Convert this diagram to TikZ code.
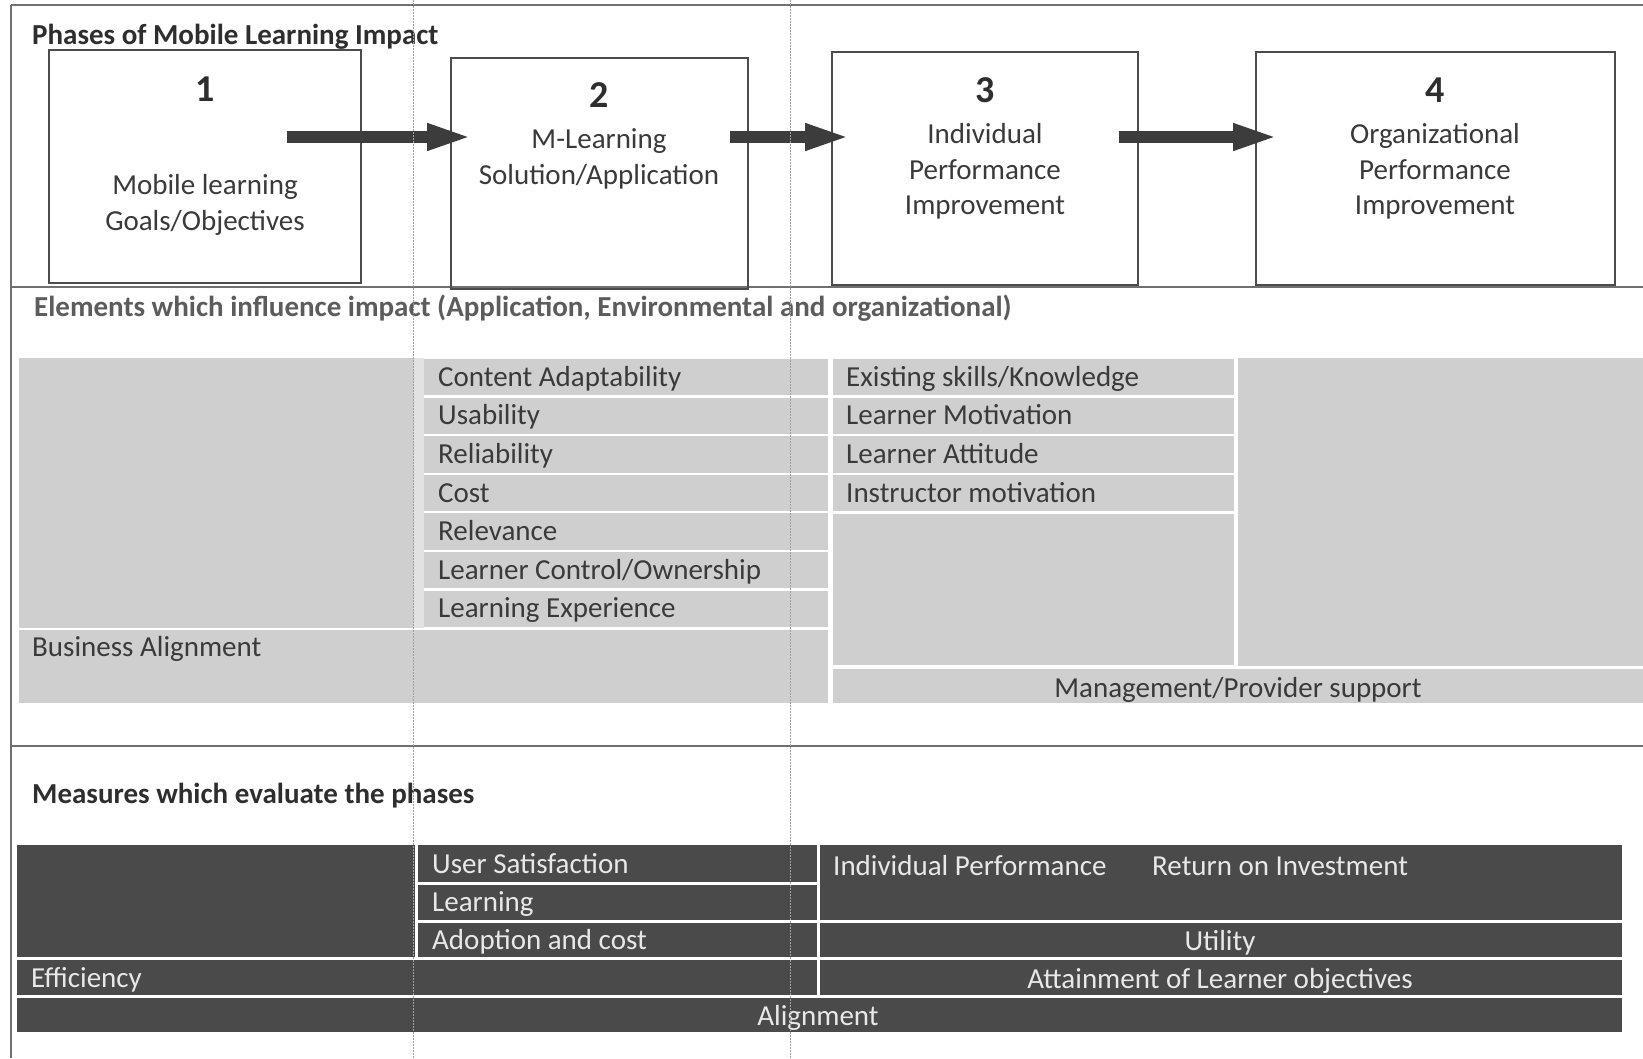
\documentclass[tikz,border=0pt]{standalone}
\usepackage{fontspec}
\setmainfont{Carlito}
\usetikzlibrary{arrows.meta}

\definecolor{panelgray}{HTML}{CFCFCF}
\definecolor{panelgap}{HTML}{E2E2E2}
\definecolor{slate}{HTML}{4A4A4A}
\definecolor{inkdark}{HTML}{2E2E2E}
\definecolor{inkmid}{HTML}{3A3A3A}
\definecolor{inksoft}{HTML}{5C5C5C}
\definecolor{inklight}{HTML}{E8E8E8}
\definecolor{framegray}{HTML}{707070}
\definecolor{boxgray}{HTML}{4C4C4C}
\definecolor{arrowgray}{HTML}{3C3C3C}
\definecolor{guidegray}{HTML}{A0A0A0}

\begin{document}
\begin{tikzpicture}[x=1pt,y=-1pt,
  txt/.style={inner sep=0pt, text height=21pt, text depth=3pt, font=\fontsize{29}{35}\selectfont},
  lefttxt/.style={txt, anchor=west},
  midtxt/.style={txt, anchor=center},
  heading/.style={txt, anchor=west, font=\fontsize{29}{35}\selectfont\bfseries},
  phasenum/.style={inner sep=0pt, text height=24pt, text depth=0pt, anchor=center,
                   font=\fontsize{38}{44}\selectfont\bfseries, text=inkdark},
  phasetxt/.style={midtxt, text=inkmid},
  phasebox/.style={draw=boxgray, line width=1.6pt, inner sep=0pt, outer sep=0pt, anchor=north west},
  flowarrow/.style={draw=arrowgray, line width=11.5pt, -{Triangle[length=46pt,width=24pt]}},
  lightcell/.style={fill=panelgray},
  darkcell/.style={fill=slate},
  celltxt/.style={lefttxt, text=inkmid},
  darktxt/.style={txt, text=inklight},
  framerule/.style={draw=framegray, line width=1.8pt},
  guide/.style={draw=guidegray, line width=0.9pt, dash pattern=on 1.5pt off 1.5pt}
]
% page
\fill[white] (0,0) rectangle (1643,1058);
\useasboundingbox (0,0) rectangle (1643,1058);

% outer frame and section rules
\draw[framerule] (11,5) -- (1643,5);
\draw[framerule] (11,5) -- (11,1058);
\draw[framerule] (11,287) -- (1643,287);
\draw[framerule] (11,746) -- (1643,746);

% ---------- phases ----------
\node[heading, text=inkdark] (hPhases) at (32,35) {Phases of Mobile Learning Impact};

\node[phasebox, minimum width=312pt, minimum height=233pt] (ph1) at (49,50) {};
\node[phasebox, minimum width=297pt, minimum height=231pt] (ph2) at (451,58) {};
\node[phasebox, minimum width=306pt, minimum height=233pt] (ph3) at (832,52) {};
\node[phasebox, minimum width=359pt, minimum height=233pt] (ph4) at (1256,52) {};

\node[phasenum] (n1) at (205,89) {1};
\node[phasetxt] (p1a) at (205,185) {Mobile learning};
\node[phasetxt] (p1b) at (205,221) {Goals/Objectives};

\node[phasenum] (n2) at (599,95) {2};
\node[phasetxt] (p2a) at (599,139) {M-Learning};
\node[phasetxt] (p2b) at (599,175) {Solution/Application};

\node[phasenum] (n3) at (985,90) {3};
\node[phasetxt] (p3a) at (985,134) {Individual};
\node[phasetxt] (p3b) at (985,170) {Performance};
\node[phasetxt] (p3c) at (985,205) {Improvement};

\node[phasenum] (n4) at (1435,90) {4};
\node[phasetxt] (p4a) at (1435,134) {Organizational};
\node[phasetxt] (p4b) at (1435,170) {Performance};
\node[phasetxt] (p4c) at (1435,205) {Improvement};

\coordinate (a1s) at (287,137);  \coordinate (a1e) at (473,137);
\coordinate (a2s) at (730,137);  \coordinate (a2e) at (851,137);
\coordinate (a3s) at (1119,137); \coordinate (a3e) at (1279,137);
\draw[flowarrow] (a1s) -- (a1e);
\draw[flowarrow] (a2s) -- (a2e);
\draw[flowarrow] (a3s) -- (a3e);

% ---------- elements ----------
\node[heading, text=inksoft] (hElements) at (34,307)
  {Elements which influence impact (Application, Environmental and organizational)};

\fill[lightcell] (19,358) rectangle (414,627.5);
\fill[panelgap] (414,358) rectangle (424,627.5);
\foreach \i in {0,...,6}
  \fill[lightcell] (424,{358+\i*38.57+1.2}) rectangle (828,{358+(\i+1)*38.57-1.2});
\fill[lightcell] (19,630) rectangle (828,703);

\foreach \i in {0,...,3}
  \fill[lightcell] (833,{358+\i*38.57+1.2}) rectangle (1234,{358+(\i+1)*38.57-1.2});
\fill[lightcell] (833,513.5) rectangle (1234,665);
\fill[lightcell] (1237.5,358) rectangle (1643,666);
\fill[lightcell] (833,669) rectangle (1643,703);

\node[celltxt] (e1) at (438,377.3) {Content Adaptability};
\node[celltxt] (e2) at (438,415.9) {Usability};
\node[celltxt] (e3) at (438,454.4) {Reliability};
\node[celltxt] (e4) at (438,493.0) {Cost};
\node[celltxt] (e5) at (438,531.6) {Relevance};
\node[celltxt] (e6) at (438,570.2) {Learner Control/Ownership};
\node[celltxt] (e7) at (438,608.7) {Learning Experience};

\node[celltxt] (f1) at (846,377.3) {Existing skills/Knowledge};
\node[celltxt] (f2) at (846,415.9) {Learner Motivation};
\node[celltxt] (f3) at (846,454.4) {Learner Attitude};
\node[celltxt] (f4) at (846,493.0) {Instructor motivation};

\node[celltxt] (bizAlign) at (32,647) {Business Alignment};
\node[midtxt, text=inkmid] (mgmt) at (1238,688) {Management/Provider support};

% ---------- measures ----------
\node[heading, text=inkdark] (hMeasures) at (32,794) {Measures which evaluate the phases};

\fill[darkcell] (17,845) rectangle (415,957);
\fill[darkcell] (418,845) rectangle (817,882);
\fill[darkcell] (418,884.5) rectangle (817,920);
\fill[darkcell] (418,922.5) rectangle (817,957);
\fill[darkcell] (820,845) rectangle (1622,920);
\fill[darkcell] (820,922.5) rectangle (1622,957);
\fill[darkcell] (17,960) rectangle (817,995);
\fill[darkcell] (820,960) rectangle (1622,995);
\fill[darkcell] (17,998) rectangle (1622,1032);

\node[darktxt, anchor=west] (m1) at (432,864) {User Satisfaction};
\node[darktxt, anchor=west] (m2) at (432,902) {Learning};
\node[darktxt, anchor=west] (m3) at (432,940) {Adoption and cost};
\node[darktxt, anchor=west] (m4) at (833,866) {Individual Performance};
\node[darktxt, anchor=west] (m5) at (1152,866) {Return on Investment};
\node[darktxt, anchor=center] (m6) at (1220,941) {Utility};
\node[darktxt, anchor=west] (m7) at (31,978) {Efficiency};
\node[darktxt, anchor=center] (m8) at (1220,979) {Attainment of Learner objectives};
\node[darktxt, anchor=center] (m9) at (818,1016) {Alignment};

% ---------- vertical guide lines ----------
\draw[guide] (413,0) -- (413,1058);
\draw[guide] (790,0) -- (790,1058);
\end{tikzpicture}
\end{document}
